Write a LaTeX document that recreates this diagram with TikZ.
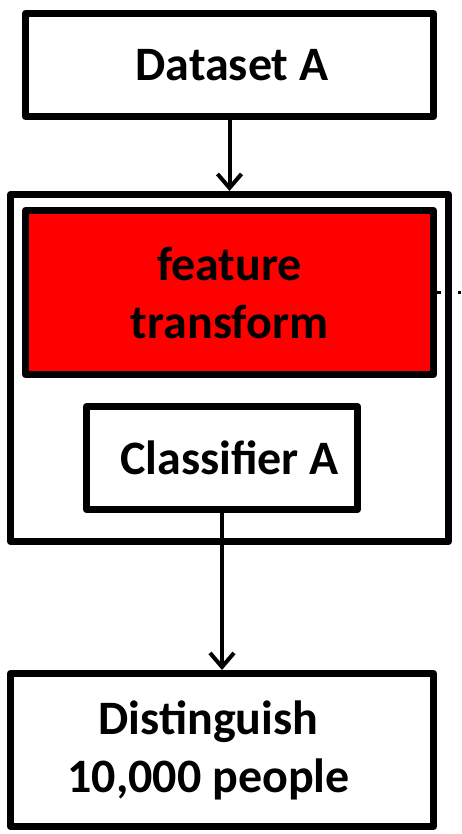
\documentclass[tikz,border=0pt]{standalone}
\usepackage{fontspec}
\setmainfont{Carlito}
\usepackage{tikz}
\usetikzlibrary{calc,positioning,arrows.meta}
\definecolor{ftred}{RGB}{255,0,0}

\begin{document}
\begin{tikzpicture}[x=1pt, y=1pt,
  box/.style={draw, line width=7pt, line join=round, inner sep=0pt, align=center,
              font=\fontsize{48}{58}\selectfont\bfseries},
  flow/.style={-{Straight Barb[length=14pt, width=24pt]}, line width=4pt}]
\useasboundingbox (0,0) rectangle (461,-834);

\node [box, minimum width=408pt, minimum height=103pt] (data) at (229.5,-65) {\hspace*{5pt}Dataset A};
\node [box, minimum width=438pt, minimum height=347pt] (model) at (229.5,-368) {};
\node [box, fill=ftred, minimum width=408pt, minimum height=164pt] (feat) at (229.5,-292.5) {feature\\transform};
\node [box, minimum width=271pt, minimum height=103pt] (clf) at (222,-458) {\hspace*{15pt}Classifier A};
\node [box, minimum width=423pt, minimum height=153pt] (out) at (222,-750) {Distinguish\hspace*{27pt}\\10,000 people\hspace*{27pt}};
\coordinate (edge) at (461,-292.5);

\draw [flow] (data.south) -- (data.south |- model.north);
\draw [flow] (clf.south) -- (out.north);
\draw [line width=3.5pt, dash pattern=on 3.5pt off 7pt] (feat.east) -- (edge);
\end{tikzpicture}
\end{document}
